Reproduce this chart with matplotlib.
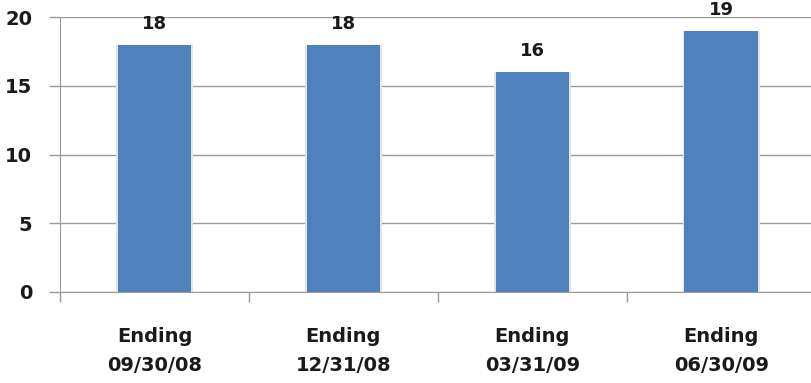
import numpy as np
import matplotlib.pyplot as plt

# data
categorias = ["Ending\n09/30/08", "Ending\n12/31/08", "Ending\n03/31/09", "Ending\n06/30/09"]
valores = [18, 18, 16, 19]
yticks = [0, 5, 10, 15, 20]

plt.rcParams["font.family"] = ["DejaVu Sans"]

fig = plt.figure(figsize=(8.12, 3.83), dpi=100)
ax = fig.add_axes([0.0739, 0.2376, 0.9261, 0.718])

x = np.arange(len(valores))
cor = "#4F81BD"
cinza = "#9a9a9a"
preto = "#1a1a1a"

# sombra leve atrás das barras
ax.bar(x, valores, width=0.405, color="#e4e4e4", zorder=2)
bars = ax.bar(x, valores, width=0.39, color=cor, zorder=3)

for xi, v in zip(x, valores):
    ax.text(xi, v + 1.15, str(v), ha="center", va="baseline", fontsize=13,
            fontweight="bold", color=preto, clip_on=False)

ax.set_ylim(0, 20)
ax.set_xlim(-0.5, 3.48)
ax.set_yticks(yticks)
ax.set_yticklabels([str(t) for t in yticks], fontsize=14, fontweight="bold",
                   color=preto)
ax.yaxis.grid(True, color=cinza, lw=1)
ax.set_axisbelow(True)

# rótulos de categoria centrados nas barras, ticks entre categorias
ax.set_xticks(x)
ax.set_xticklabels(categorias, fontsize=14, fontweight="bold", linespacing=1.7,
                   color=preto)
ax.tick_params(axis="x", length=0, pad=25)
ax.set_xticks(np.arange(-0.5, 3.5, 1.0), minor=True)
ax.tick_params(axis="x", which="minor", length=7, color=cinza, width=1)
ax.tick_params(axis="y", length=8, color=cinza, width=1, pad=12)

for lado in ["top", "right"]:
    ax.spines[lado].set_visible(False)
ax.spines["left"].set_color(cinza)
ax.spines["bottom"].set_color(cinza)

plt.savefig("out.png", dpi=100)
plt.close()
